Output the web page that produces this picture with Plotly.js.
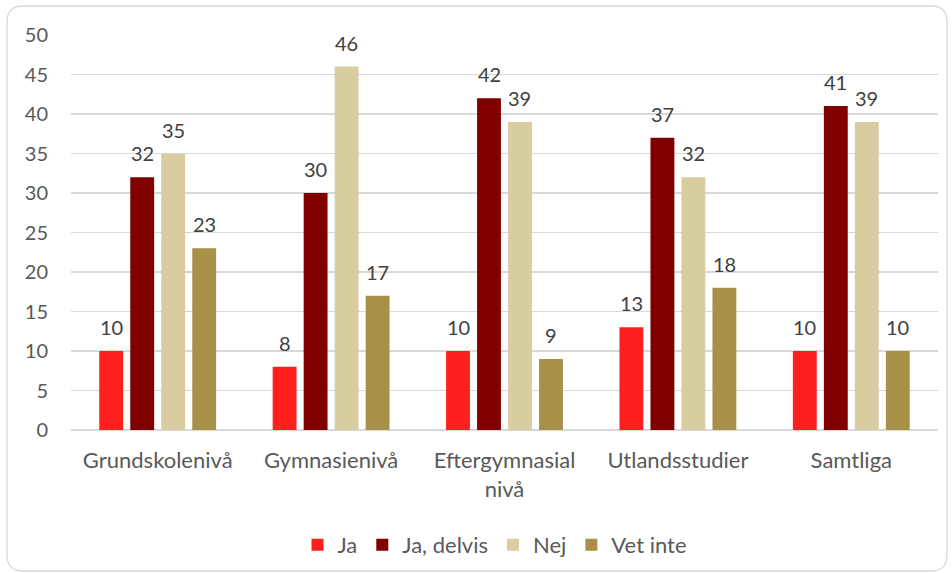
<!DOCTYPE html>
<html>
<head>
<meta charset="utf-8">
<script src="https://cdn.plot.ly/plotly-3.0.1.min.js"></script>
<style>
html,body{margin:0;padding:0;background:#fff;}
#chart{width:952px;height:573px;}
</style>
</head>
<body>
<div id="chart"></div>
<script>
const categories = ["Grundskolenivå", "Gymnasienivå", "Eftergymnasial<br>nivå", "Utlandsstudier", "Samtliga"];
const seriesNames = ["Ja", "Ja, delvis", "Nej", "Vet inte"];
const ja = [10, 8, 10, 13, 10];
const jaDelvis = [32, 30, 42, 37, 41];
const nej = [35, 46, 39, 32, 39];
const vetInte = [23, 17, 9, 18, 10];
const yTicks = [0, 5, 10, 15, 20, 25, 30, 35, 40, 45, 50];

const colors = ["#FF1F1F", "#800000", "#D8CCA0", "#A89048"];
const values = [ja, jaDelvis, nej, vetInte];
const FONT = "Lato, 'Noto Sans', sans-serif";

const traces = values.map((v, i) => ({
  type: "bar",
  name: seriesNames[i],
  x: categories,
  y: v,
  marker: {color: colors[i], line: {width: 0}},
  hoverinfo: "x+y+name"
}));

// plot area in pixels
const W = 952, H = 573;
const L = 71, R = 14, T = 35, B = 143;
const pw = W - L - R, ph = H - T - B;
const BARGAP = 0.285, BARGROUPGAP = 0.23;
const slot = (pw / categories.length) * (1 - BARGAP) / values.length;

function px(x) { return ((x - L) / pw).toFixed(5); }
function py(y) { return ((H - B - y) / ph).toFixed(5); }
function roundedBox(x0, y0, x1, y1, r) {
  return "M" + px(x0 + r) + "," + py(y0) +
    " L" + px(x1 - r) + "," + py(y0) +
    " Q" + px(x1) + "," + py(y0) + " " + px(x1) + "," + py(y0 + r) +
    " L" + px(x1) + "," + py(y1 - r) +
    " Q" + px(x1) + "," + py(y1) + " " + px(x1 - r) + "," + py(y1) +
    " L" + px(x0 + r) + "," + py(y1) +
    " Q" + px(x0) + "," + py(y1) + " " + px(x0) + "," + py(y1 - r) +
    " L" + px(x0) + "," + py(y0 + r) +
    " Q" + px(x0) + "," + py(y0) + " " + px(x0 + r) + "," + py(y0) + " Z";
}

// data labels placed above each bar
const annotations = [];
values.forEach((v, i) => {
  v.forEach((val, j) => {
    annotations.push({
      xref: "x", yref: "y",
      x: categories[j], y: val,
      text: String(val),
      showarrow: false,
      xanchor: "center", yanchor: "bottom",
      xshift: (i - (values.length - 1) / 2) * slot,
      yshift: 10,
      font: {family: FONT, size: 20, color: "#404040"}
    });
  });
});

const layout = {
  width: W, height: H,
  margin: {l: L, r: R, t: T, b: B, pad: 0, autoexpand: false},
  paper_bgcolor: "#ffffff",
  plot_bgcolor: "#ffffff",
  barmode: "group",
  bargap: BARGAP,
  bargroupgap: BARGROUPGAP,
  font: {family: FONT, size: 20, color: "#595959"},
  showlegend: true,
  legend: {
    orientation: "h",
    x: px(495), xanchor: "center",
    y: py(545), yanchor: "middle",
    font: {family: FONT, size: 22, color: "#595959"},
    itemclick: false,
    traceorder: "normal"
  },
  xaxis: {
    type: "category",
    showgrid: false,
    zeroline: false,
    showline: false,
    ticks: "",
    ticklabelstandoff: 15,
    tickfont: {family: FONT, size: 22, color: "#595959"},
    fixedrange: true
  },
  yaxis: {
    range: [0, 50],
    tickvals: yTicks,
    ticktext: yTicks.map(String),
    showgrid: true,
    gridcolor: "#D9D9D9",
    gridwidth: 1.3,
    zeroline: true,
    zerolinecolor: "#D9D9D9",
    zerolinewidth: 1.3,
    showline: false,
    ticks: "",
    ticklabelstandoff: 22,
    tickfont: {family: FONT, size: 20, color: "#595959"},
    fixedrange: true
  },
  annotations: annotations,
  shapes: [{
    type: "path",
    xref: "paper", yref: "paper",
    path: roundedBox(7, 6, 947, 571, 16),
    line: {color: "#D9D9D9", width: 1.3},
    fillcolor: "rgba(0,0,0,0)",
    layer: "below"
  }]
};

Plotly.newPlot("chart", traces, layout, {displayModeBar: false, staticPlot: true});
</script>
</body>
</html>
